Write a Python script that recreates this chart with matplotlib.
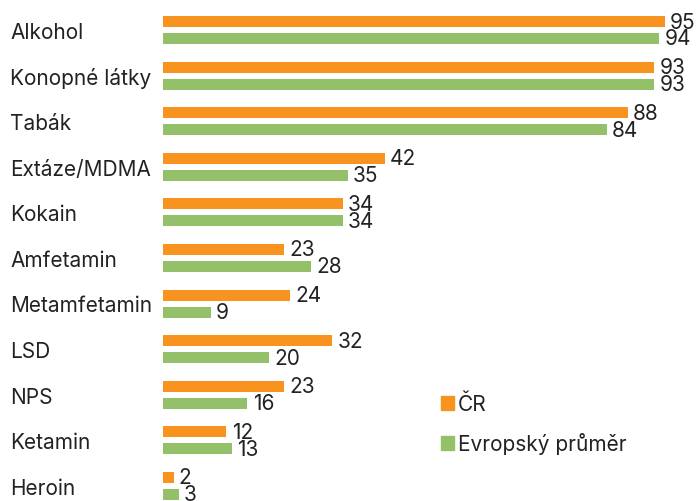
import numpy as np
import matplotlib.pyplot as plt
import matplotlib.transforms as mtransforms
from matplotlib.patches import Patch

plt.rcParams['font.family'] = ['Inter', 'DejaVu Sans']

# data
categories = ['Alkohol', 'Konopné látky', 'Tabák', 'Extáze/MDMA', 'Kokain',
              'Amfetamin', 'Metamfetamin', 'LSD', 'NPS', 'Ketamin', 'Heroin']
cr_values = [95, 93, 88, 42, 34, 23, 24, 32, 23, 12, 2]
eu_values = [94, 93, 84, 35, 34, 28, 9, 20, 16, 13, 3]
series_names = ['ČR', 'Evropský průměr']

orange = '#f7931e'
green = '#94c06a'
fs = 15

fig = plt.figure(figsize=(6.99, 5.02), dpi=100)
ax = fig.add_axes([163 / 699, 0, 1 - 163 / 699, 1])

y = np.arange(len(categories))
off = 0.186
h = 0.24
ax.barh(y - off, cr_values, height=h, color=orange)
ax.barh(y + off, eu_values, height=h, color=green)

ax.set_xlim(0, 536 / 5.28)
ax.set_ylim(10.33, -0.68)
ax.axis('off')

# value labels
for yi, v in zip(y, cr_values):
    ax.text(v + 1.0, yi - off, str(v), va='center', ha='left', fontsize=fs, color='#222222')
for yi, v in zip(y, eu_values):
    ax.text(v + 1.0, yi + off, str(v), va='center', ha='left', fontsize=fs, color='#222222')

# category labels
trans = mtransforms.blended_transform_factory(fig.transFigure, ax.transData)
for yi, c in zip(y, categories):
    ax.text(10 / 699, yi + 0.04, c, transform=trans, va='center', ha='left',
            fontsize=fs, color='#222222')

handles = [Patch(color=orange), Patch(color=green)]
fig.legend(handles, series_names, loc='upper left', bbox_to_anchor=(441 / 699, 1 - 395 / 502),
           frameon=False, fontsize=fs, handlelength=0.62, handleheight=0.62,
           handletextpad=0.2, labelspacing=0.85, borderpad=0, borderaxespad=0,
           labelcolor='#222222')

fig.savefig('out.png', dpi=100)
